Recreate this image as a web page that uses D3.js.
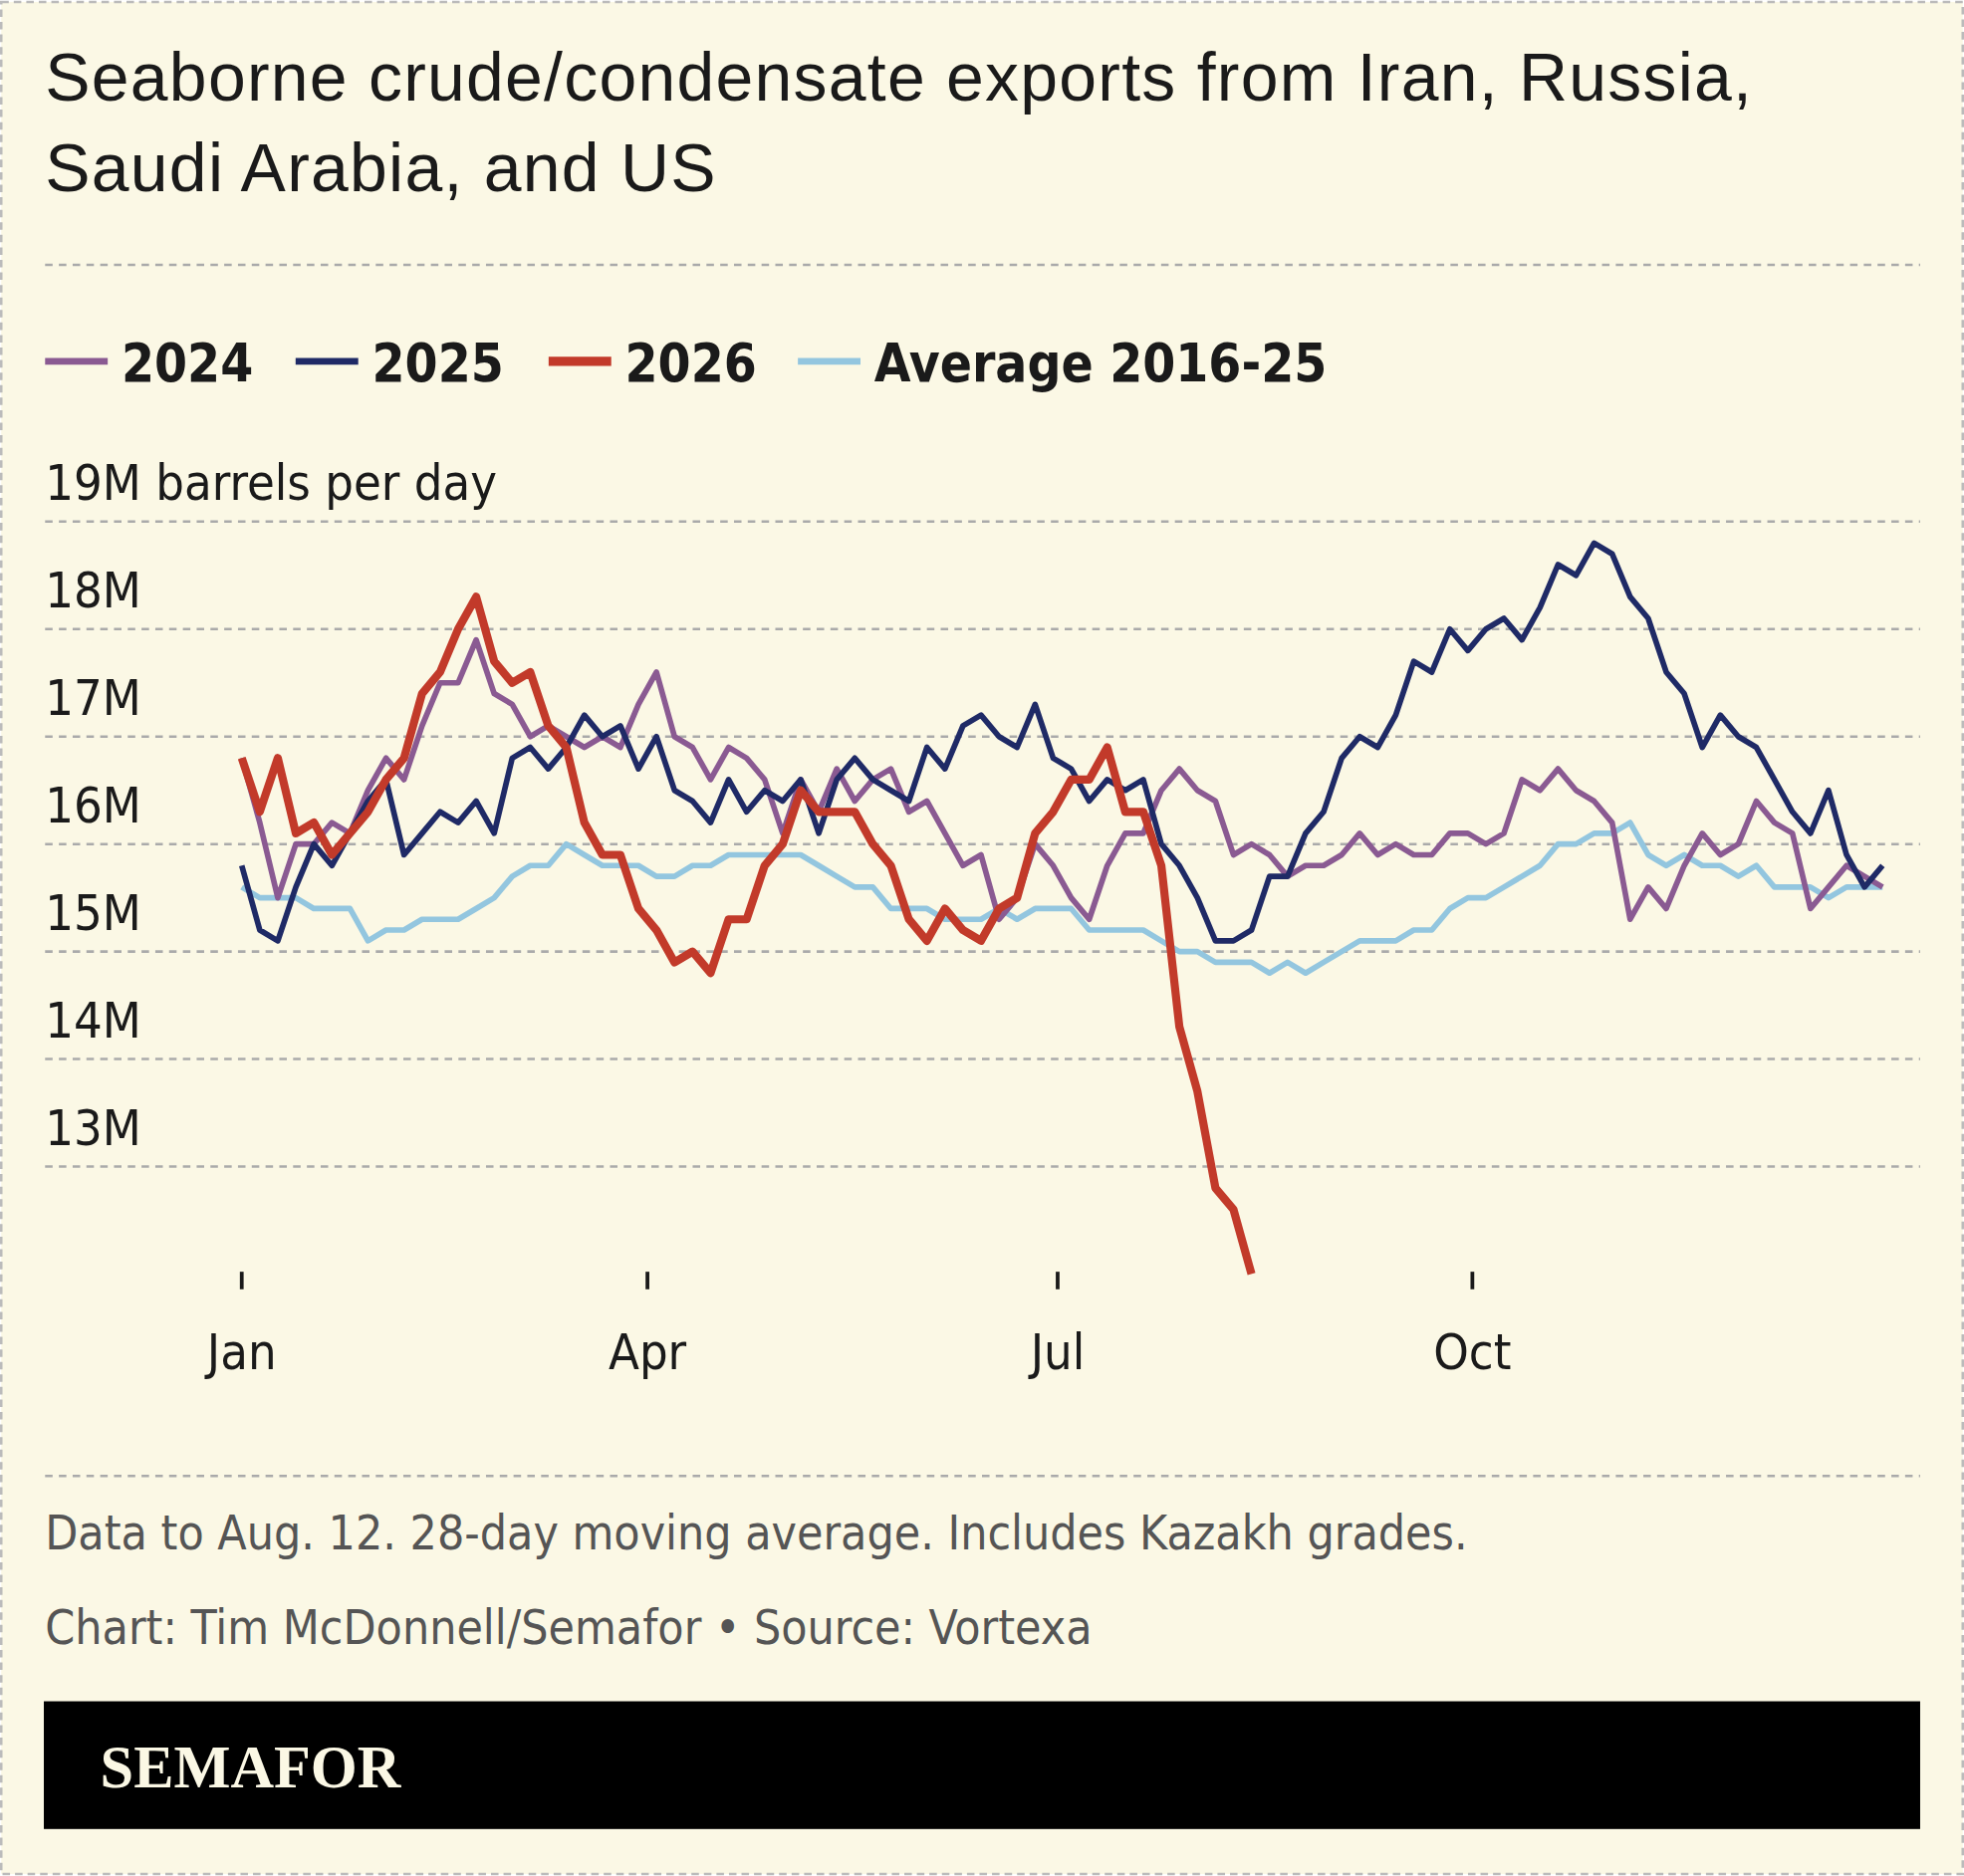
<!DOCTYPE html>
<html>
<head>
<meta charset="utf-8">
<script src="https://cdn.jsdelivr.net/npm/d3@7"></script>
<style>
  body { margin: 0; background: #fff; }
  svg { display: block; }
</style>
</head>
<body>
<script>
// values every 4 days from Jan 1 (M barrels/day)
const stepDays = 4;
const s2024 = [16.8,16.2,15.5,16.0,16.0,16.2,16.1,16.5,16.8,16.6,17.1,17.5,17.5,17.9,17.4,17.3,17.0,17.1,17.0,16.9,17.0,16.9,17.3,17.6,17.0,16.9,16.6,16.9,16.8,16.6,16.1,16.6,16.3,16.7,16.4,16.6,16.7,16.3,16.4,16.1,15.8,15.9,15.3,15.5,16.0,15.8,15.5,15.3,15.8,16.1,16.1,16.5,16.7,16.5,16.4,15.9,16.0,15.9,15.7,15.8,15.8,15.9,16.1,15.9,16.0,15.9,15.9,16.1,16.1,16.0,16.1,16.6,16.5,16.7,16.5,16.4,16.2,15.3,15.6,15.4,15.8,16.1,15.9,16.0,16.4,16.2,16.1,15.4,15.6,15.8,15.7,15.6];
const s2025 = [15.8,15.2,15.1,15.6,16.0,15.8,16.1,16.4,16.6,15.9,16.1,16.3,16.2,16.4,16.1,16.8,16.9,16.7,16.9,17.2,17.0,17.1,16.7,17.0,16.5,16.4,16.2,16.6,16.3,16.5,16.4,16.6,16.1,16.6,16.8,16.6,16.5,16.4,16.9,16.7,17.1,17.2,17.0,16.9,17.3,16.8,16.7,16.4,16.6,16.5,16.6,16.0,15.8,15.5,15.1,15.1,15.2,15.7,15.7,16.1,16.3,16.8,17.0,16.9,17.2,17.7,17.6,18.0,17.8,18.0,18.1,17.9,18.2,18.6,18.5,18.8,18.7,18.3,18.1,17.6,17.4,16.9,17.2,17.0,16.9,16.6,16.3,16.1,16.5,15.9,15.6,15.8];
const s2026 = [16.8,16.3,16.8,16.1,16.2,15.9,16.1,16.3,16.6,16.8,17.4,17.6,18.0,18.3,17.7,17.5,17.6,17.1,16.9,16.2,15.9,15.9,15.4,15.2,14.9,15.0,14.8,15.3,15.3,15.8,16.0,16.5,16.3,16.3,16.3,16.0,15.8,15.3,15.1,15.4,15.2,15.1,15.4,15.5,16.1,16.3,16.6,16.6,16.9,16.3,16.3,15.8,14.3,13.7,12.8,12.6,12.0];
const sAvg = [15.6,15.5,15.5,15.5,15.4,15.4,15.4,15.1,15.2,15.2,15.3,15.3,15.3,15.4,15.5,15.7,15.8,15.8,16.0,15.9,15.8,15.8,15.8,15.7,15.7,15.8,15.8,15.9,15.9,15.9,15.9,15.9,15.8,15.7,15.6,15.6,15.4,15.4,15.4,15.3,15.3,15.3,15.4,15.3,15.4,15.4,15.4,15.2,15.2,15.2,15.2,15.1,15.0,15.0,14.9,14.9,14.9,14.8,14.9,14.8,14.9,15.0,15.1,15.1,15.1,15.2,15.2,15.4,15.5,15.5,15.6,15.7,15.8,16.0,16.0,16.1,16.1,16.2,15.9,15.8,15.9,15.8,15.8,15.7,15.8,15.6,15.6,15.6,15.5,15.6,15.6,15.6];
const yTicks = [13, 14, 15, 16, 17, 18, 19];
const xTickDays = [0, 90, 181, 273];
const xTickLabels = ["Jan", "Apr", "Jul", "Oct"];
const legendNames = ["2024", "2025", "2026", "Average 2016-25"];

const W = 1568, H = 1497;
const svg = d3.select("body").append("svg")
  .attr("width", 1972).attr("height", 1884)
  .attr("viewBox", `0 0 ${W} ${H}`);

svg.append("rect").attr("x", 1).attr("y", 1).attr("width", W - 2).attr("height", H - 2)
  .attr("fill", "#fbf8e5").attr("stroke", "#bbb").attr("stroke-dasharray", "6,4").attr("stroke-width", 2);

const font = "'Liberation Sans', Arial, sans-serif";
const cond = "'DejaVu Sans Condensed', 'DejaVu Sans', sans-serif";
const title = svg.append("text").attr("x", 36).attr("font-family", font).attr("font-size", 54)
  .attr("letter-spacing", 1).attr("fill", "#1a1a1a");
title.append("tspan").attr("x", 36).attr("y", 80).text("Seaborne crude/condensate exports from Iran, Russia,");
title.append("tspan").attr("x", 36).attr("y", 152).text("Saudi Arabia, and US");

function dashLine(y) {
  svg.append("line").attr("x1", 36).attr("x2", 1533).attr("y1", y).attr("y2", y)
    .attr("stroke", "#aaa").attr("stroke-width", 2).attr("stroke-dasharray", "6,5");
}
dashLine(211);
dashLine(1178);

// legend
const colors = ["#8a5a92", "#1f2a66", "#c23a2a", "#93c6df"];
const widths = [4.5, 4.5, 6.5, 4.5];
const legX = [36, 236, 438, 637];
legendNames.forEach((n, i) => {
  svg.append("line").attr("x1", legX[i]).attr("x2", legX[i] + 50).attr("y1", 288).attr("y2", 288)
    .attr("stroke", colors[i]).attr("stroke-width", widths[i] + 1);
  svg.append("text").attr("x", legX[i] + 61).attr("y", 304).attr("font-family", cond)
    .attr("font-size", 42).attr("font-weight", "bold").attr("fill", "#1a1a1a").text(n);
});

const x = d3.scaleLinear().domain([0, 364]).range([193, 1503]);
const y = d3.scaleLinear().domain([13, 19]).range([931, 416]);

yTicks.forEach(t => dashLine(y(t)));
yTicks.forEach(t => {
  svg.append("text").attr("x", 36).attr("y", y(t) - 17).attr("font-family", cond)
    .attr("font-size", 40).attr("fill", "#1a1a1a").text(t === 19 ? "19M barrels per day" : t + "M");
});

xTickDays.forEach((d, i) => {
  svg.append("line").attr("x1", x(d)).attr("x2", x(d)).attr("y1", 1015).attr("y2", 1029)
    .attr("stroke", "#1a1a1a").attr("stroke-width", 3);
  svg.append("text").attr("x", x(d)).attr("y", 1093).attr("text-anchor", "middle")
    .attr("font-family", cond).attr("font-size", 40).attr("fill", "#1a1a1a")
    .text(xTickLabels[i]);
});

const line = d3.line().x((d, i) => x(i * stepDays)).y(d => y(d));
[[sAvg, 3], [s2024, 0], [s2025, 1], [s2026, 2]].forEach(([s, i]) => {
  svg.append("path").attr("d", line(s)).attr("fill", "none")
    .attr("stroke", colors[i]).attr("stroke-width", widths[i]).attr("stroke-linejoin", "round");
});

svg.append("text").attr("x", 36).attr("y", 1237).attr("font-family", cond)
  .attr("font-size", 38).attr("fill", "#555").text("Data to Aug. 12. 28-day moving average. Includes Kazakh grades.");
svg.append("text").attr("x", 36).attr("y", 1312).attr("font-family", cond)
  .attr("font-size", 38).attr("fill", "#555").text("Chart: Tim McDonnell/Semafor • Source: Vortexa");

svg.append("rect").attr("x", 35).attr("y", 1358).attr("width", 1498).attr("height", 102).attr("fill", "#000");
svg.append("text").attr("x", 80).attr("y", 1427).attr("font-family", "'Liberation Serif', 'DejaVu Serif', serif")
  .attr("font-size", 48).attr("font-weight", "bold").attr("fill", "#fbf8e5").text("SEMAFOR");
</script>
</body>
</html>
